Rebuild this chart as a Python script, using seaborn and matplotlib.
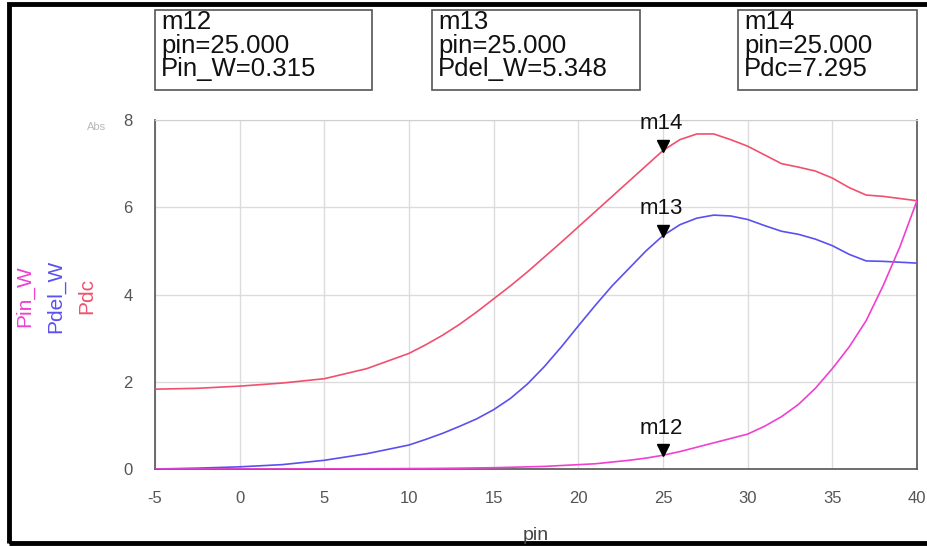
import numpy as np
import pandas as pd
import matplotlib
matplotlib.use('Agg')
import matplotlib.pyplot as plt
import matplotlib.transforms as mtransforms
from matplotlib.patches import Rectangle
from matplotlib.ticker import MultipleLocator
import seaborn as sns

# swept input power (dBm)
pin = [-5, -2.5, 0, 2.5, 5, 7.5, 10, 11, 12, 13, 14,
       15, 16, 17, 18, 19, 20, 21, 22, 23, 24, 25, 26, 27,
       28, 29, 30, 31, 32, 33, 34, 35, 36, 37, 38, 39, 40]

# DC power (W)
pdc = [1.83, 1.85, 1.9, 1.97, 2.07, 2.3, 2.65, 2.85, 3.07, 3.32, 3.6,
       3.9, 4.2, 4.52, 4.86, 5.2, 5.55, 5.9, 6.25, 6.6, 6.95, 7.3, 7.55, 7.68,
       7.68, 7.55, 7.4, 7.2, 7.0, 6.92, 6.83, 6.67, 6.45, 6.28, 6.25, 6.2, 6.15]

# delivered power (W)
pdel_w = [0.0, 0.02, 0.05, 0.1, 0.2, 0.35, 0.55, 0.68, 0.82, 0.98, 1.15,
          1.36, 1.62, 1.95, 2.35, 2.8, 3.28, 3.75, 4.2, 4.6, 5.0, 5.35, 5.6, 5.75,
          5.82, 5.8, 5.72, 5.58, 5.45, 5.38, 5.27, 5.12, 4.92, 4.77, 4.76, 4.74, 4.72]

# input power (W)
pin_w = [0.0, 0.0, 0.001, 0.002, 0.003, 0.006, 0.01, 0.012, 0.015, 0.02, 0.025,
         0.03, 0.04, 0.05, 0.06, 0.08, 0.1, 0.12, 0.16, 0.2, 0.25, 0.315, 0.4, 0.5,
         0.6, 0.7, 0.8, 0.98, 1.2, 1.48, 1.85, 2.3, 2.8, 3.4, 4.2, 5.1, 6.15]

# markers
marker_names = ['m12', 'm13', 'm14']
marker_pin = [25, 25, 25]
marker_vals = [0.315, 5.348, 7.295]
marker_vars = ['Pin_W', 'Pdel_W', 'Pdc']

df = pd.DataFrame({'pin': pin, 'Pdc': pdc, 'Pdel_W': pdel_w, 'Pin_W': pin_w})
long_df = df.melt(id_vars='pin', var_name='trace', value_name='value')

colors = {'Pdc': '#f0506e', 'Pdel_W': '#5a50f0', 'Pin_W': '#f040d0'}

sns.set_style('white')
plt.rcParams['font.family'] = ['Liberation Sans', 'DejaVu Sans']
plt.rcParams['axes.unicode_minus'] = False

fig = plt.figure(figsize=(9.28, 5.46), dpi=100)
ax = fig.add_axes([0.167, 0.141, 0.8211, 0.6392])

sns.lineplot(data=long_df, x='pin', y='value', hue='trace', palette=colors,
             linewidth=1.2, legend=False, ax=ax, zorder=3)

ax.set_xlim(-5, 40)
ax.set_ylim(0, 8)
ax.xaxis.set_major_locator(MultipleLocator(5))
ax.xaxis.set_minor_locator(MultipleLocator(1))
ax.yaxis.set_major_locator(MultipleLocator(2))
ax.yaxis.set_minor_locator(MultipleLocator(1))
ax.grid(True, which='major', color='#dcdcdc', linewidth=1.0)
ax.tick_params(axis='both', which='major', direction='out', length=7,
               color='#444444', labelsize=12, labelcolor='#555555', pad=9)
ax.tick_params(axis='both', which='minor', direction='in', length=5, color='#444444')
ax.set_xlabel('')
ax.set_ylabel('')
for side in ['left', 'bottom', 'right']:
    ax.spines[side].set_color('#555555')
    ax.spines[side].set_linewidth(1.2)
ax.spines['top'].set_color('#d0d0d0')

# marker triangles and names
tri_tf = mtransforms.offset_copy(ax.transData, fig=fig, y=5, units='dots')
for name, x, v in zip(marker_names, marker_pin, marker_vals):
    ax.plot([x], [v], marker='v', color='black', markersize=9,
            transform=tri_tf, zorder=5)
    ax.annotate(name, (x, v), xytext=(-1, 12), textcoords='offset points',
                ha='center', va='bottom', fontsize=16, color='#111111', zorder=5)

# marker readout boxes
box_px = [(155, 372), (432, 640), (738, 917)]
W, H = 928, 546
for (x0, x1), name, x, var, v in zip(box_px, marker_names, marker_pin, marker_vars, marker_vals):
    fig.patches.append(Rectangle((x0 / W, 1 - 90 / H), (x1 - x0) / W, 80 / H,
                                 transform=fig.transFigure, fill=False,
                                 edgecolor='#555555', linewidth=1.2))
    fig.text((x0 + 6) / W, 1 - 10 / H, f'{name}\npin={x:.3f}\n{var}={v:.3f}',
             ha='left', va='top', fontsize=18.5, linespacing=0.98, color='#111111')

# stacked y-axis labels
for xp, lab in zip([25, 56, 87], ['Pin_W', 'Pdel_W', 'Pdc']):
    fig.text(xp / W, 1 - 296 / H, lab, rotation=90, ha='center', va='center',
             fontsize=15, color=colors[lab])
fig.text(97 / W, 1 - 127 / H, 'Abs', ha='center', va='center', fontsize=8, color='#b8b8b8')
fig.text(536 / W, 1 - 536 / H, 'pin', ha='center', va='center', fontsize=14, color='#444444')

# outer frame (left, top, bottom)
fig.patches.append(Rectangle((9 / W, 3 / H), 1.0, 1 - 7 / H, transform=fig.transFigure,
                             fill=False, edgecolor='black', linewidth=3.5))

fig.savefig('out.png', dpi=100)
